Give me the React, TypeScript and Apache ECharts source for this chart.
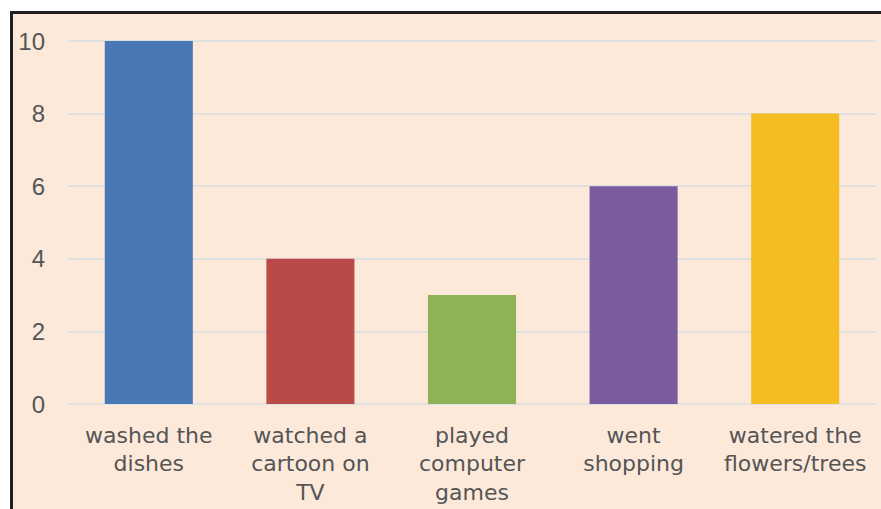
import React, { useEffect, useRef } from "react";
import * as echarts from "echarts";

const categories = [
  "washed the\ndishes",
  "watched a\ncartoon on\nTV",
  "played\ncomputer\ngames",
  "went\nshopping",
  "watered the\nflowers/trees",
];
const values = [10, 4, 3, 6, 8];
const barColors = ["#4a78b6", "#b94a48", "#8db356", "#7a5c9e", "#f5bd22"];
const yTicks = [0, 2, 4, 6, 8, 10];

export default function App() {
  const ref = useRef<HTMLDivElement>(null);
  useEffect(() => {
    if (!ref.current) return;
    const chart = echarts.init(ref.current, undefined, { renderer: "svg" });
    chart.setOption({
      animation: false,
      backgroundColor: "#ffffff",
      graphic: [
        {
          type: "rect",
          z: -10,
          silent: true,
          shape: { x: 11.5, y: 12.5, width: 900, height: 600 },
          style: { fill: "#fce9da", stroke: "#231f20", lineWidth: 3 },
        },
      ],
      grid: { left: 68, right: 5, top: 41, bottom: 105, containLabel: false },
      xAxis: {
        type: "category",
        data: categories,
        axisLine: { show: false },
        axisTick: { show: false },
        axisLabel: {
          interval: 0,
          margin: 17,
          color: "#555555",
          fontFamily: "DejaVu Sans",
          fontSize: 22,
          lineHeight: 28.5,
          verticalAlign: "top",
        },
      },
      yAxis: {
        type: "value",
        min: 0,
        max: yTicks[yTicks.length - 1],
        interval: 2,
        axisLine: { show: false },
        axisTick: { show: false },
        axisLabel: {
          margin: 23,
          color: "#555555",
          fontFamily: "Liberation Sans",
          fontSize: 24,
        },
        splitLine: { show: true, lineStyle: { color: "#d6dde2", width: 1.5 } },
      },
      series: [
        {
          type: "bar",
          barWidth: "54.5%",
          data: values.map((v, i) => ({ value: v, itemStyle: { color: barColors[i] } })),
        },
      ],
    });
    return () => chart.dispose();
  }, []);
  return (
    <div
      ref={ref}
      style={{ position: "fixed", left: 0, top: 0, width: 881, height: 509 }}
    />
  );
}
